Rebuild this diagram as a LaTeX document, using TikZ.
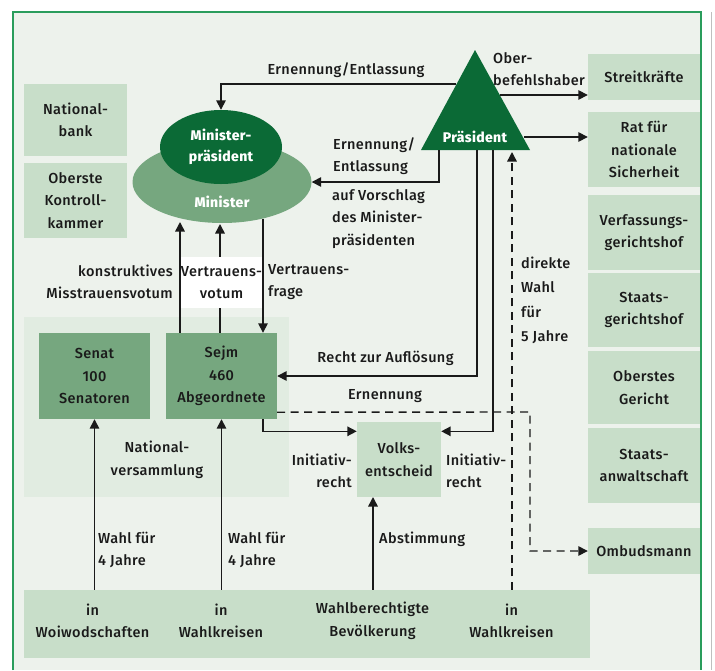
\documentclass[tikz,border=0pt]{standalone}
\usepackage{fontspec}
\setmainfont{Fira Sans Medium}[LetterSpace=2.5]
\usetikzlibrary{arrows.meta,calc,shapes.geometric}
\definecolor{bg}{HTML}{EDF2EC}
\definecolor{lightg}{HTML}{C8DEC9}
\definecolor{nvg}{HTML}{E1ECE1}
\definecolor{midg}{HTML}{76A77F}
\definecolor{dkg}{HTML}{0B6A36}
\definecolor{frameg}{HTML}{2A9D5C}
\definecolor{ink}{HTML}{1A1A1A}
\begin{document}
\begin{tikzpicture}[x=1pt,y=-1pt,
  txt/.style={font=\fontsize{14.5}{22.5}\selectfont, text=ink, align=center, inner sep=0pt},
  wtxt/.style={font=\bfseries\fontsize{14}{21}\selectfont, text=white, align=center, inner sep=0pt},
  lbox/.style={fill=lightg, txt, minimum width=112pt},
  mbox/.style={fill=midg, font=\fontsize{14.5}{22.5}\selectfont, text=ink, align=center, inner sep=0pt, minimum width=111pt, minimum height=86pt},
  conn/.style={draw=ink, line width=1.5pt, -{Triangle[length=9.5pt,width=9.5pt]}},
  dsh/.style={draw=ink, line width=1.4pt, dash pattern=on 8pt off 5.5pt}
]
\useasboundingbox (0,0) rectangle (715,670);
\fill[white] (0,0) rectangle (715,670);
\fill[bg] (13,12) rectangle (701,670);
\draw[frameg, line width=1.5pt] (13,670) -- (13,12) -- (701,12) -- (701,670);
\draw[black!25, line width=1pt] (711,12) -- (711,670);

% Nationalversammlung area
\node[fill=nvg, minimum width=265pt, minimum height=180pt, inner sep=0pt] (nv) at (156.5,407) {};
\node[txt] (nvl) at (157,460) {National-\\versammlung};

% left boxes
\node[lbox, minimum width=103pt, minimum height=72pt] (nb) at (75.5,120) {National-\\bank};
\node[lbox, minimum width=103pt, minimum height=75pt] (okk) at (75.5,200.5) {Oberste\\Kontroll-\\kammer};

% right boxes
\node[lbox, minimum height=46pt] (sk) at (644,77) {Streitkräfte};
\node[lbox, minimum height=75pt] (rat) at (644,149.5) {Rat für\\nationale\\Sicherheit};
\node[lbox, minimum height=75pt] (vgh) at (644,232.5) {Verfassungs-\\gerichtshof};
\node[lbox, minimum height=74pt] (sgh) at (644,310) {Staats-\\gerichtshof};
\node[lbox, minimum height=73pt] (og) at (644,387.5) {Oberstes\\Gericht};
\node[lbox, minimum height=75pt] (saw) at (644,465.5) {Staats-\\anwaltschaft};
\node[lbox, minimum height=46pt] (omb) at (644,551) {Ombudsmann};

% ministers
\node[ellipse, fill=midg, minimum width=179pt, minimum height=82pt, inner sep=0pt] (min) at (222,182) {};
\node[wtxt] (minl) at (222,202) {Minister};
\node[ellipse, fill=dkg, minimum width=122pt, minimum height=74pt, inner sep=0pt, wtxt] (mp) at (221,147) {Minister-\\präsident};

% president triangle
\fill[dkg] (475,50) -- (530,150) -- (421,150) -- cycle;
\node[wtxt] (pres) at (475,137) {Präsident};
\coordinate (tl) at (456,84);
\coordinate (tr1) at (499.5,95);
\coordinate (tr2) at (524,137);
\coordinate (b1) at (439,150);
\coordinate (b2) at (477,150);
\coordinate (b3) at (493,150);
\coordinate (b4) at (512,152);

% parliament
\node[mbox] (senat) at (94.5,376) {Senat\\100\\Senatoren};
\node[mbox] (sejm) at (221.5,376) {Sejm\\460\\Abgeordnete};

% Volksentscheid
\node[lbox, minimum width=84pt, minimum height=75pt] (volks) at (399,459.5) {Volks-\\entscheid};

% bottom
\node[fill=lightg, minimum width=566pt, minimum height=68pt, inner sep=0pt] (bot) at (307,624) {};
\node[txt] (bw) at (92.5,621) {in\\Woiwodschaften};
\node[txt] (bk1) at (221,621) {in\\Wahlkreisen};
\node[txt] (bb) at (372.5,621) {Wahlberechtigte\\Bevölkerung};
\node[txt] (bk2) at (511.5,621) {in\\Wahlkreisen};

% connectors from president
\draw[conn] (tl) -| (mp.north);
\draw[conn] (tr1) -- (tr1 -| sk.west);
\draw[conn] (tr2) -- (tr2 -| rat.west);
\draw[conn] (b1) |- (min.east);
\draw[conn] (b2) |- (sejm.east);
\coordinate (vL) at ($(volks.north west)+(0,9.5)$);
\coordinate (vR) at ($(volks.north east)+(0,9.5)$);
\draw[conn] (b3) |- (vR);
\draw[dsh, -{Triangle[length=9.5pt,width=9.5pt]}] (bot.north -| b4) -- (b4);

% Sejm <-> ministers
\coordinate (k1) at (180,222);
\coordinate (k2) at (220,224);
\coordinate (k3) at (263,218.5);
\draw[conn] (sejm.north -| k1) -- (k1);
\draw[conn] (sejm.north -| k2) -- (k2);
\draw[conn] (k3) -- (sejm.north -| k3);
\draw[conn] (sejm.south -| k3) |- (vL);

% Ernennung dashed to Ombudsmann
\coordinate (sE) at ($(sejm.south east)+(0,-7)$);
\coordinate (d1) at (530,412);
\draw[dsh, -{Triangle[length=9.5pt,width=9.5pt]}] (sE) -- (d1) |- (omb.west);

% elections
\draw[conn] (bot.north -| senat) -- (senat.south);
\draw[conn] (bot.north -| sejm) -- (sejm.south);
\coordinate (a1) at (373,497);
\draw[conn] (bot.north -| a1) -- (a1);

% labels
\node[txt] (l1) at (346,70) {Ernennung/Entlassung};
\node[txt, anchor=west, align=left] (l2) at (493,69) {Ober-\\befehlshaber};
\node[txt, anchor=west, align=left] (l3) at (333,156) {Ernennung/\\Entlassung};
\node[txt, anchor=west, align=left] (l4) at (332,219) {auf Vorschlag\\des Minister-\\präsidenten};
\node[txt, anchor=east, align=right] (l5) at (173,282) {konstruktives\\Misstrauensvotum};
\node[fill=white, minimum width=79pt, minimum height=51pt, txt] (l6) at (221.5,282.5) {Vertrauens-\\votum};
\node[txt, anchor=west, align=left] (l7) at (268,282) {Vertrauens-\\frage};
\node[txt] (l8) at (385.5,358) {Recht zur Auflösung};
\node[txt] (l9) at (385,396) {Ernennung};
\node[txt, anchor=east, align=right] (l10) at (352,471) {Initiativ-\\recht};
\node[txt, anchor=west, align=left] (l11) at (446,471) {Initiativ-\\recht};
\node[txt, anchor=west, align=left, font=\fontsize{14.5}{24.5}\selectfont] (l12) at (521,300.5) {direkte\\Wahl\\für\\5 Jahre};
\node[txt, anchor=west, align=left] (l13) at (98,550) {Wahl für\\4 Jahre};
\node[txt, anchor=west, align=left] (l14) at (228,550) {Wahl für\\4 Jahre};
\node[txt, anchor=west] (l15) at (379,539) {Abstimmung};
\end{tikzpicture}
\end{document}
